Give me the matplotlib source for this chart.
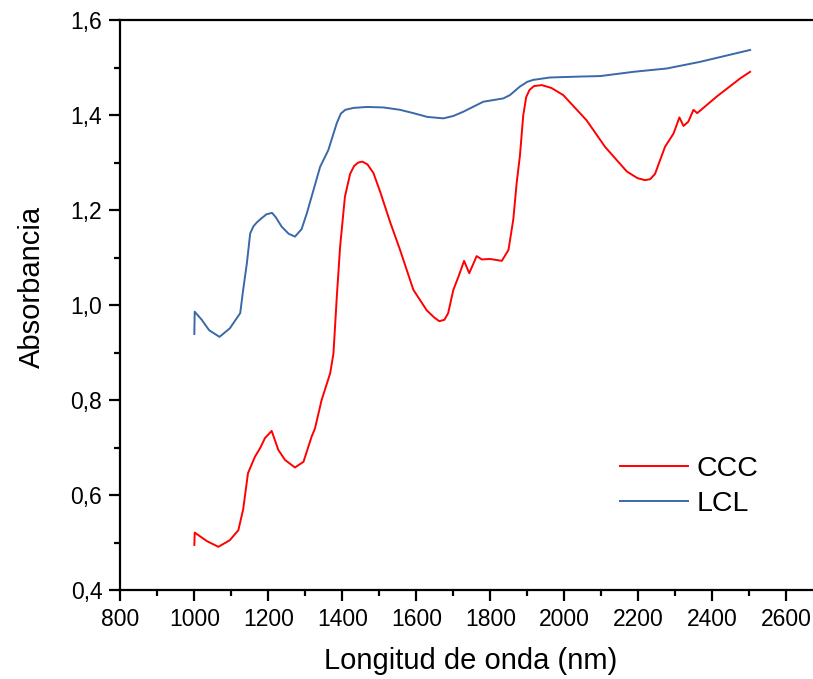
"""NIR absorbance spectra of the CCC and LCL samples."""

from matplotlib import pyplot
from matplotlib.ticker import MultipleLocator, FuncFormatter

# CCC spectrum (wavelength in nm, absorbance).
wl_ccc = [1000, 1001, 1034, 1065, 1096, 1119, 1132, 1145, 1164, 1178, 1191,
          1209, 1227, 1245, 1272, 1295, 1317, 1326, 1344, 1367, 1376, 1385,
          1394, 1407, 1421, 1432, 1443, 1454, 1468, 1484, 1502, 1529, 1556,
          1592, 1628, 1648, 1662, 1676, 1686, 1700, 1714, 1729, 1743, 1763,
          1777, 1799, 1831, 1849, 1862, 1871, 1880, 1889, 1897, 1906, 1918,
          1939, 1965, 1997, 2060, 2110, 2169, 2198, 2218, 2232, 2245, 2272,
          2295, 2311, 2322, 2335, 2349, 2359, 2412, 2475, 2502]
abs_ccc = [0.495, 0.521, 0.503, 0.491, 0.505, 0.526, 0.570, 0.646, 0.681,
           0.699, 0.720, 0.735, 0.695, 0.674, 0.658, 0.670, 0.723, 0.740,
           0.800, 0.856, 0.898, 1.017, 1.123, 1.228, 1.276, 1.293, 1.300,
           1.302, 1.296, 1.278, 1.239, 1.175, 1.116, 1.032, 0.989, 0.974,
           0.966, 0.969, 0.983, 1.032, 1.060, 1.093, 1.067, 1.103, 1.096,
           1.097, 1.093, 1.116, 1.180, 1.256, 1.315, 1.400, 1.438, 1.453,
           1.461, 1.463, 1.457, 1.442, 1.389, 1.333, 1.281, 1.267, 1.263,
           1.265, 1.276, 1.333, 1.361, 1.395, 1.377, 1.386, 1.411, 1.404,
           1.439, 1.477, 1.491]

# LCL spectrum.
wl_lcl = [1000, 1001, 1020, 1040, 1068, 1096, 1124, 1132, 1142, 1151, 1160,
          1169, 1182, 1195, 1210, 1220, 1236, 1255, 1272, 1290, 1304, 1322,
          1340, 1362, 1385, 1396, 1408, 1430, 1466, 1511, 1556, 1592, 1630,
          1673, 1700, 1727, 1781, 1835, 1853, 1880, 1900, 1916, 1961, 2042,
          2097, 2187, 2277, 2367, 2502]
abs_lcl = [0.939, 0.986, 0.969, 0.947, 0.933, 0.951, 0.983, 1.032, 1.088,
           1.151, 1.166, 1.174, 1.183, 1.191, 1.194, 1.185, 1.165, 1.150,
           1.144, 1.160, 1.193, 1.242, 1.291, 1.326, 1.383, 1.403, 1.411,
           1.415, 1.417, 1.416, 1.411, 1.404, 1.396, 1.393, 1.398, 1.407,
           1.428, 1.435, 1.442, 1.460, 1.470, 1.474, 1.479, 1.481, 1.482,
           1.491, 1.498, 1.512, 1.537]

pyplot.rc('font', family='Liberation Sans', size=16.5)
fig = pyplot.figure(figsize=(8.13, 6.79), dpi=100)
ax = fig.add_axes([0.148, 0.131, 0.852, 0.8395])

ax.plot(wl_ccc, abs_ccc, color='#ff0000', linewidth=1.4, label='CCC')
ax.plot(wl_lcl, abs_lcl, color='#3a68a8', linewidth=1.4, label='LCL')

ax.set_xlim(800.0, 2672.0)
ax.set_ylim(0.4, 1.6)
ax.xaxis.set_major_locator(MultipleLocator(200))
ax.xaxis.set_minor_locator(MultipleLocator(100))
ax.yaxis.set_major_locator(MultipleLocator(0.2))
ax.yaxis.set_minor_locator(MultipleLocator(0.1))
ax.yaxis.set_major_formatter(FuncFormatter(lambda v, pos: f'{v:.1f}'.replace('.', ',')))
ax.tick_params(which='both', direction='out', width=1.6, top=False, right=False)
ax.tick_params(which='major', length=8, pad=5)
ax.tick_params(which='minor', length=4.5)
ax.spines['right'].set_visible(False)
for side in ('left', 'bottom', 'top'):
    ax.spines[side].set_linewidth(1.6)

ax.set_xlabel('Longitud de onda (nm)', fontsize=21)
ax.set_ylabel('Absorbancia', fontsize=21)
ax.xaxis.set_label_coords(0.506, -0.100)
ax.yaxis.set_label_coords(-0.108, 0.532)

ax.legend(loc='upper left', bbox_to_anchor=(0.7626, 0.3284),
          bbox_transform=fig.transFigure, frameon=False, fontsize=20.5,
          handlelength=2.4, handletextpad=0.3, labelspacing=0.33,
          borderpad=0.0, borderaxespad=0.0)

fig.savefig('out.png', dpi=100)
